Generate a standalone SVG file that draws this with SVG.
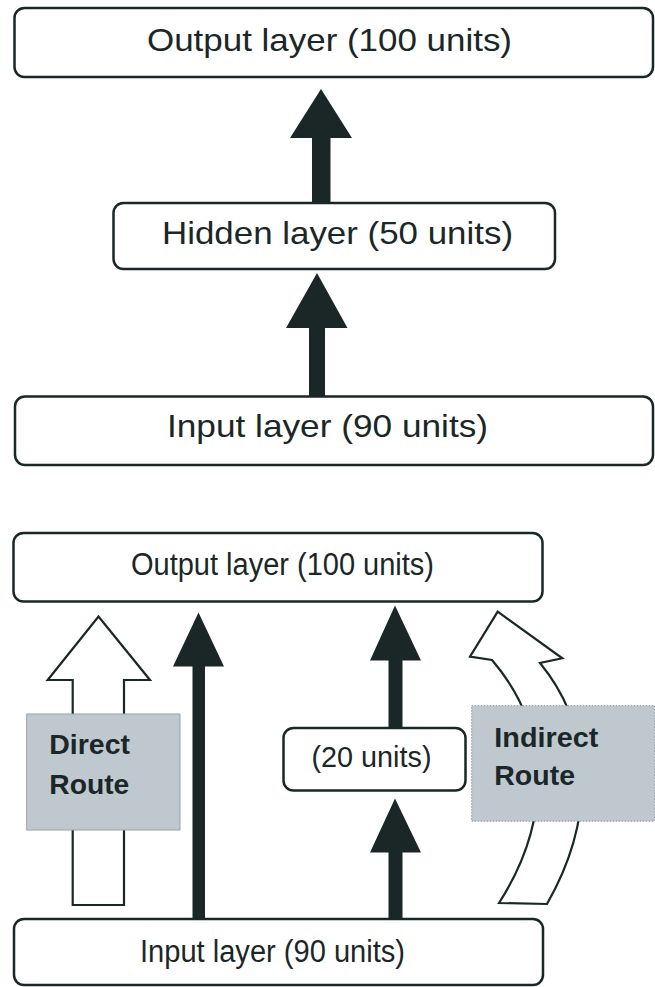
<svg xmlns="http://www.w3.org/2000/svg" width="655" height="987" viewBox="0 0 655 987">
<style>
.box{fill:#fff;stroke:#1b2727;stroke-width:2.5}
.t{font-family:"Liberation Sans",Arial,sans-serif;fill:#1b2727}
.big{font-size:32px}
.mid{font-size:31px}
.small{font-size:29px}
.lab{font-family:"Liberation Sans",Arial,sans-serif;font-size:28px;font-weight:bold;fill:#1b2727}
.solid{fill:#1b2727;stroke:none}
.hollow{fill:#fff;stroke:#1b2727;stroke-width:2.2;stroke-linejoin:miter}
.gray{fill:#bfc8cf}
</style>
<rect width="655" height="987" fill="#fff"/>
<g id="connectors">
<polygon class="solid" points="321,89 352,138 330.5,138 330.5,204 312,204 312,138 290,138"/>
<polygon class="solid" points="317,273 347.5,328 325,328 325,397 309,397 309,328 286,328"/>
<polygon class="solid" points="198.5,612.5 224,666.5 205,666.5 205,919 192.5,919 192.5,666.5 173,666.5"/>
<polygon class="solid" points="395,605.5 421,660.5 402.5,660.5 402.5,728 388.5,728 388.5,660.5 370,660.5"/>
<polygon class="solid" points="395,798.5 421,852.5 402.5,852.5 402.5,919 388.5,919 388.5,852.5 370,852.5"/>
<polygon class="hollow" points="98.5,616.5 150,680 124,680 124,905 72.7,905 72.7,680 47.7,680"/>
<path class="hollow" d="M497.7 611.7 L562.3 658.3 L540 663 C595 730 595 820 547 904 L499 903 C552 820 552 730 492 660 L470 656.7 Z"/>
</g>
<g id="top-output">
<rect class="box" x="14.5" y="8" width="638.5" height="69" rx="10"/>
<text class="t big" x="147" y="50.5" textLength="365" lengthAdjust="spacingAndGlyphs">Output layer (100 units)</text>
</g>
<g id="top-hidden">
<rect class="box" x="113.5" y="203" width="441.5" height="66" rx="10"/>
<text class="t big" x="162" y="244" textLength="351" lengthAdjust="spacingAndGlyphs">Hidden layer (50 units)</text>
</g>
<g id="top-input">
<rect class="box" x="15" y="396.5" width="638" height="68.5" rx="10"/>
<text class="t big" x="167" y="436.5" textLength="321" lengthAdjust="spacingAndGlyphs">Input layer (90 units)</text>
</g>
<g id="bottom-output">
<rect class="box" x="13.5" y="533" width="529" height="68.5" rx="10"/>
<text class="t mid" x="131" y="575" textLength="303" lengthAdjust="spacingAndGlyphs">Output layer (100 units)</text>
</g>
<g id="bottom-hidden">
<rect class="box" x="283.5" y="728" width="182" height="62.5" rx="10"/>
<text class="t small" x="311.5" y="766.5" textLength="120" lengthAdjust="spacingAndGlyphs">(20 units)</text>
</g>
<g id="bottom-input">
<rect class="box" x="14" y="919" width="529" height="66" rx="10"/>
<text class="t mid" x="140" y="961.5" textLength="265" lengthAdjust="spacingAndGlyphs">Input layer (90 units)</text>
</g>
<g id="direct-label">
<rect class="gray" x="26.7" y="714" width="153.3" height="116" stroke="#9aa3a9" stroke-width="1"/>
<text class="lab" x="49.3" y="754" textLength="80.7" lengthAdjust="spacingAndGlyphs">Direct</text>
<text class="lab" x="49.3" y="794" textLength="80" lengthAdjust="spacingAndGlyphs">Route</text>
</g>
<g id="indirect-label">
<rect class="gray" x="471.7" y="705.7" width="183" height="115.5" stroke="#8a949a" stroke-width="1" stroke-dasharray="1.5,1.5"/>
<text class="lab" x="494.3" y="746.7" textLength="104" lengthAdjust="spacingAndGlyphs">Indirect</text>
<text class="lab" x="494.3" y="785" textLength="80.7" lengthAdjust="spacingAndGlyphs">Route</text>
</g>
</svg>
